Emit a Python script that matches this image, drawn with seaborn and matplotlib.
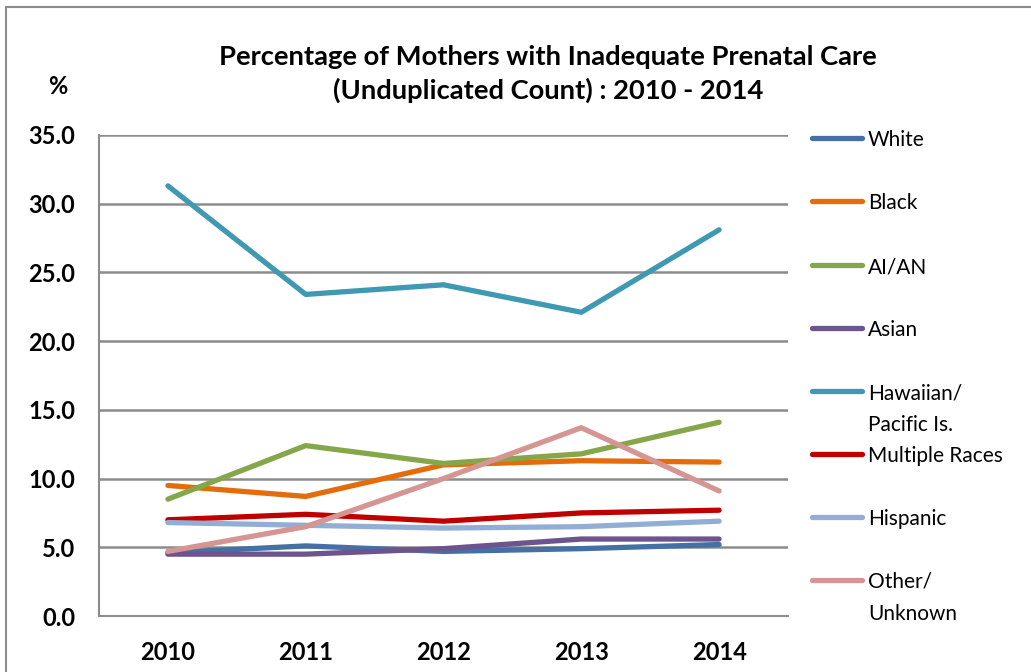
import matplotlib
matplotlib.use("Agg")
import matplotlib.pyplot as plt
from matplotlib.lines import Line2D
from matplotlib.patches import Rectangle
import seaborn as sns
import pandas as pd

years = ["2010", "2011", "2012", "2013", "2014"]
white = [4.6, 5.1, 4.7, 4.9, 5.2]
black = [9.5, 8.7, 11.0, 11.3, 11.2]
aian = [8.5, 12.4, 11.1, 11.8, 14.1]
asian = [4.5, 4.5, 4.9, 5.6, 5.6]
hawaiian = [31.3, 23.4, 24.1, 22.1, 28.1]
multiple = [7.0, 7.4, 6.9, 7.5, 7.7]
hispanic = [6.8, 6.6, 6.4, 6.5, 6.9]
other = [4.7, 6.5, 10.0, 13.7, 9.1]

groups = ["White", "Black", "AI/AN", "Asian", "Hawaiian/\nPacific Is.",
          "Multiple Races", "Hispanic", "Other/\nUnknown"]
series = [white, black, aian, asian, hawaiian, multiple, hispanic, other]
colors = ["#4470A6", "#E46C0A", "#86A64A", "#6D548E", "#3F99B3",
          "#C00000", "#92AED4", "#D59593"]

rows = []
for g, vals in zip(groups, series):
    for i, v in enumerate(vals):
        rows.append({"group": g, "pos": i, "value": v})
df = pd.DataFrame(rows)

sns.set_style("white")
plt.rcParams["font.family"] = ["Lato", "DejaVu Sans"]
plt.rcParams["text.color"] = "black"

fig = plt.figure(figsize=(10.31, 6.72), dpi=100)
ax = fig.add_axes([99 / 1031, 56 / 672, 689 / 1031, 481 / 672])

sns.lineplot(data=df, x="pos", y="value", hue="group", hue_order=groups,
             palette=colors, linewidth=3.8, ax=ax, legend=False,
             solid_capstyle="round", solid_joinstyle="round")

ax.set_ylim(0, 35)
ax.set_xlim(-0.5, 4.5)
ax.set_yticks([0, 5, 10, 15, 20, 25, 30, 35])
ax.set_yticklabels([f"{v:.1f}" for v in [0, 5, 10, 15, 20, 25, 30, 35]],
                   fontsize=17, fontweight="bold")
ax.set_xticks([-0.5, 0.5, 1.5, 2.5, 3.5, 4.5])
ax.set_xticklabels([])
ax.set_xticks(range(len(years)), minor=True)
ax.set_xticklabels(years, minor=True, fontsize=17, fontweight="bold")
ax.tick_params(axis="x", which="major", length=6, width=1.5, color="#868686",
               direction="out")
ax.tick_params(axis="x", which="minor", length=0, pad=18, labelcolor="black")
ax.tick_params(axis="y", length=6, width=1.5, color="#868686",
               direction="out", pad=11, labelcolor="black")
ax.set_xlabel("")
ax.set_ylabel("")
ax.yaxis.grid(True, color="#8C8C8C", linewidth=1.8)
ax.set_axisbelow(True)
for s in ["top", "right"]:
    ax.spines[s].set_visible(False)
for s in ["left", "bottom"]:
    ax.spines[s].set_color("#8C8C8C")
    ax.spines[s].set_linewidth(1.5)

fig.text(548 / 1031, 1 - 74 / 672,
         "Percentage of Mothers with Inadequate Prenatal Care\n(Unduplicated Count) : 2010 - 2014",
         ha="center", va="center", fontsize=19.7, fontweight="bold",
         linespacing=1.45)
fig.text(58 / 1031, 1 - 87 / 672, "%", ha="center", va="center",
         fontsize=17, fontweight="bold")

# legend laid out like the spreadsheet one
leg_y = [138, 201, 265, 328, 391, 454, 517, 580]
for g, c, y in zip(groups, colors, leg_y):
    fy = 1 - y / 672
    fig.add_artist(Line2D([812 / 1031, 862 / 1031], [fy, fy], color=c,
                          linewidth=3.8, solid_capstyle="round"))
    fig.text(868 / 1031, 1 - (y - 8) / 672, g, ha="left", va="top",
             fontsize=15, linespacing=1.75)

fig.add_artist(Rectangle((6 / 1031, -0.1), 1.2, 1 - 7 / 672 + 0.1,
                         transform=fig.transFigure, fill=False,
                         edgecolor="#8C8C8C", linewidth=1.5))

fig.savefig("out.png", dpi=100)
